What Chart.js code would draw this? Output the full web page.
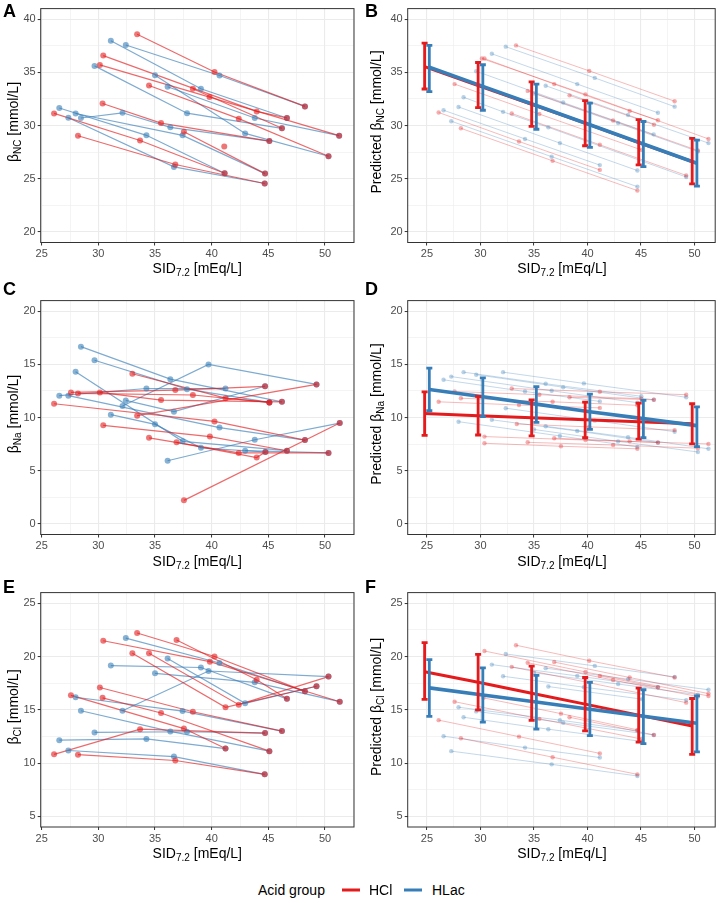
<!DOCTYPE html>
<html>
<head>
<meta charset="utf-8">
<script src="https://cdn.jsdelivr.net/npm/chart.js@4.4.1/dist/chart.umd.min.js"></script>
<style>
  body { margin: 0; background: #fff; font-family: "Liberation Sans", Arial, sans-serif; }
  #fig { position: relative; width: 725px; height: 903px; overflow: hidden; background: #fff; }
  canvas { position: absolute; }
  .lab { position: absolute; font-weight: bold; font-size: 18px; line-height: 18px; color: #000; }
  .xt, .yt { position: absolute; font-size: 14px; line-height: 16px; white-space: nowrap; color: #000; }
  .xt { transform: translate(-50%, -50%); }
  .yt { transform: translate(-50%, -50%) rotate(-90deg); }
  sub { font-size: 10px; vertical-align: -3px; line-height: 0; }
  .leg { position: absolute; font-size: 14px; line-height: 16px; transform: translateY(-50%); white-space: nowrap; }
  .key { position: absolute; width: 18px; height: 3px; transform: translateY(-50%); }
</style>
</head>
<body>
<div id="fig">
  <canvas id="cA" width="360" height="262" style="left:0;top:0"></canvas>
  <canvas id="cB" width="360" height="262" style="left:362px;top:0"></canvas>
  <canvas id="cC" width="360" height="262" style="left:0;top:292px"></canvas>
  <canvas id="cD" width="360" height="262" style="left:362px;top:292px"></canvas>
  <canvas id="cE" width="360" height="262" style="left:0;top:584px"></canvas>
  <canvas id="cF" width="360" height="262" style="left:362px;top:584px"></canvas>

  <div class="lab" style="left:3px;top:2px">A</div>
  <div class="lab" style="left:365px;top:2px">B</div>
  <div class="lab" style="left:3px;top:280px">C</div>
  <div class="lab" style="left:365px;top:280px">D</div>
  <div class="lab" style="left:3px;top:578px">E</div>
  <div class="lab" style="left:365px;top:578px">F</div>

  <div class="yt" style="left:12.5px;top:122px">β<sub>NC</sub> [mmol/L]</div>
  <div class="yt" style="left:375.5px;top:122px">Predicted β<sub>NC</sub> [mmol/L]</div>
  <div class="yt" style="left:12.5px;top:414px">β<sub>Na</sub> [mmol/L]</div>
  <div class="yt" style="left:375.5px;top:414px">Predicted β<sub>Na</sub> [mmol/L]</div>
  <div class="yt" style="left:12.5px;top:706.5px">β<sub>Cl</sub> [mmol/L]</div>
  <div class="yt" style="left:375.5px;top:706.5px">Predicted β<sub>Cl</sub> [mmol/L]</div>

  <div class="xt" style="left:197.3px;top:267.5px">SID<sub>7.2</sub> [mEq/L]</div>
  <div class="xt" style="left:561.9px;top:267.5px">SID<sub>7.2</sub> [mEq/L]</div>
  <div class="xt" style="left:197.3px;top:561px">SID<sub>7.2</sub> [mEq/L]</div>
  <div class="xt" style="left:561.9px;top:561px">SID<sub>7.2</sub> [mEq/L]</div>
  <div class="xt" style="left:197.3px;top:853px">SID<sub>7.2</sub> [mEq/L]</div>
  <div class="xt" style="left:561.9px;top:853px">SID<sub>7.2</sub> [mEq/L]</div>

  <div class="leg" style="left:258px;top:890px">Acid group</div>
  <div class="key" style="left:342px;top:890px;background:#E41A1C"></div>
  <div class="leg" style="left:369px;top:890px">HCl</div>
  <div class="key" style="left:404px;top:890px;background:#377EB8"></div>
  <div class="leg" style="left:432px;top:890px">HLac</div>
</div>

<script>
/* ===== Data: [SID, value] per animal ===== */
const sidTicks = [25, 30, 35, 40, 45, 50];
const sidGrid = [25, 27.5, 30, 32.5, 35, 37.5, 40, 42.5, 45, 47.5, 50, 52.5];
const ticksNC = [20, 22.5, 25, 27.5, 30, 32.5, 35, 37.5, 40];
const ticksNa = [0, 2.5, 5, 7.5, 10, 12.5, 15, 17.5, 20];
const ticksCl = [5, 7.5, 10, 12.5, 15, 17.5, 20, 22.5, 25];

// A: observed beta NC
const obsNcHCl = [
  [[33.42,38.58],[40.25,35.04],[48.23,31.80]],
  [[30.43,36.58],[43.97,31.33],[46.64,30.71]],
  [[30.13,35.70],[39.81,32.68],[51.25,29.05]],
  [[34.47,33.77],[42.39,30.65],[50.31,27.11]],
  [[30.37,32.07],[35.53,30.23],[45.09,28.54]],
  [[26.09,31.14],[33.68,28.59],[41.14,25.51]],
  [[28.20,29.04],[36.79,26.34],[44.68,24.55]],
  [[37.55,29.41],[44.71,25.48]],
  [[38.34,33.46],[46.20,29.74]],
  [[41.11,28.04]]
];
const obsNcHLac = [
  [[32.42,37.58],[40.69,34.71],[48.23,31.80]],
  [[31.10,37.97],[39.05,33.46],[46.64,30.71]],
  [[29.66,35.61],[37.82,31.16],[46.20,29.74]],
  [[36.11,33.65],[43.80,30.71],[51.25,29.05]],
  [[35.00,34.74],[42.95,29.26],[50.31,27.11]],
  [[28.46,30.71],[32.13,31.20],[36.35,29.83],[45.09,28.54]],
  [[27.99,31.13],[37.43,29.08],[44.71,25.48]],
  [[26.55,31.65],[34.24,29.08],[41.14,25.51]],
  [[27.35,30.74],[36.67,26.11],[44.68,24.55]]
];

// B: predicted beta NC
const predNcHCl = [
  [[33.32,37.54],[40.16,35.14],[48.14,32.29]],
  [[30.37,36.30],[36.89,33.90],[43.94,31.38],[46.58,30.50]],
  [[30.13,36.30],[39.81,32.93],[51.30,28.74]],
  [[34.41,33.26],[42.39,30.47],[50.31,27.65]],
  [[38.32,32.84],[46.21,30.08]],
  [[26.09,31.23],[33.60,28.50],[41.15,25.83]],
  [[28.17,29.74],[36.74,26.68],[44.66,23.88]],
  [[27.58,33.90],[35.50,31.08],[45.03,27.71]],
  [[32.92,31.14],[41.15,28.19],[49.22,25.31]]
];
const predNcHLac = [
  [[32.36,37.42],[40.68,34.48],[48.14,31.78]],
  [[31.06,36.75],[39.04,33.90],[46.58,31.20]],
  [[29.60,35.11],[37.73,32.17],[46.18,29.17]],
  [[36.09,33.75],[43.79,30.99],[51.30,28.35]],
  [[35.00,33.02],[42.86,30.23],[50.31,27.56]],
  [[28.42,32.66],[32.11,31.29],[36.34,29.83],[49.22,25.16]],
  [[27.95,31.75],[37.42,28.35],[44.66,25.77]],
  [[26.55,31.44],[34.16,28.74],[41.15,26.28]],
  [[27.27,30.41],[36.65,27.07],[44.66,24.25]]
];
const meanNcHCl = [35.54, 33.77, 32.00, 30.23, 28.40, 26.60];
const loNcHCl   = [33.44, 31.68, 29.92, 28.10, 26.31, 24.52];
const hiNcHCl   = [37.75, 35.93, 34.11, 32.35, 30.56, 28.80];
const meanNcHLac = [35.48, 33.68, 31.88, 30.08, 28.27, 26.46];
const loNcHLac   = [33.20, 31.44, 29.65, 27.95, 26.13, 24.31];
const hiNcHLac   = [37.54, 35.72, 33.90, 32.11, 30.38, 28.62];

// C: observed beta Na
const obsNaHCl = [
  [[26.09,11.30],[40.25,9.64],[48.23,7.88]],
  [[27.58,12.36],[36.79,12.58],[44.71,12.94]],
  [[28.20,12.27],[38.34,12.12],[45.09,11.42]],
  [[30.13,12.36],[35.53,11.64],[46.20,11.48]],
  [[33.00,14.12],[41.22,11.82],[45.09,11.42]],
  [[33.42,10.18],[49.25,13.12]],
  [[30.43,9.27],[39.84,8.21],[46.64,6.88]],
  [[34.47,8.09],[42.39,6.67],[50.31,6.67]],
  [[36.90,7.67],[43.97,6.24],[44.74,6.76]],
  [[37.55,2.21],[51.30,9.48]]
];
const obsNaHLac = [
  [[28.46,16.67],[36.35,13.61],[46.20,11.48]],
  [[29.66,15.39],[37.82,12.67],[45.09,11.42]],
  [[32.13,11.09],[39.72,15.00],[49.25,13.12]],
  [[27.99,14.30],[37.43,7.76],[46.64,6.88]],
  [[26.55,12.06],[34.24,12.73],[41.22,12.73]],
  [[27.35,12.06],[40.69,9.06],[48.23,7.88]],
  [[32.42,11.61],[36.67,10.55],[44.71,12.94]],
  [[31.10,10.27],[35.00,9.36],[39.05,7.15],[44.74,6.76]],
  [[36.11,5.94],[43.80,7.91],[51.30,9.48]],
  [[42.95,6.88],[50.31,6.67]]
];

// D: predicted beta Na
const predNaHCl = [
  [[32.92,12.73],[41.15,12.42],[49.22,12.15]],
  [[27.58,12.45],[35.50,12.15],[45.03,11.77]],
  [[38.32,11.91],[46.21,11.67]],
  [[28.17,11.82],[36.74,11.48],[44.66,11.15]],
  [[26.09,11.48],[33.60,11.18],[41.15,10.91]],
  [[33.39,9.39],[40.16,9.12],[48.14,8.82]],
  [[30.37,8.21],[39.81,7.88],[51.30,7.52]],
  [[36.89,8.06],[43.94,7.76],[46.58,7.65]],
  [[34.41,7.67],[42.39,7.42],[50.31,7.12]],
  [[30.37,7.58],[37.52,7.30],[44.66,7.06]]
];
const predNaHLac = [
  [[32.11,14.27],[39.66,13.21],[49.22,11.91]],
  [[28.42,14.27],[36.09,13.18],[45.03,12.00]],
  [[29.60,14.03],[37.73,12.85],[46.18,11.67]],
  [[27.27,13.85],[36.65,12.52],[44.66,11.40]],
  [[26.55,13.55],[34.16,12.45],[41.15,11.52]],
  [[32.36,10.88],[40.68,9.71],[48.14,8.67]],
  [[31.06,9.79],[39.04,8.73],[46.58,7.64]],
  [[36.09,9.18],[43.79,8.15],[51.30,7.06]],
  [[35.00,8.88],[42.86,7.76],[50.31,6.76]],
  [[27.95,9.61],[37.42,8.27],[44.66,7.24]]
];
const meanNaHCl = [10.39, 10.18, 9.97, 9.80, 9.60, 9.42];
const loNaHCl   = [8.33, 8.36, 8.27, 8.12, 7.97, 7.52];
const hiNaHCl   = [12.42, 12.00, 11.67, 11.45, 11.36, 11.30];
const meanNaHLac = [12.64, 11.95, 11.26, 10.55, 9.90, 9.24];
const loNaHLac   = [10.64, 10.09, 9.55, 8.88, 8.12, 7.27];
const hiNaHLac   = [14.64, 13.73, 12.91, 12.21, 11.61, 11.00];

// E: observed beta Cl
const obsClHCl = [
  [[33.42,22.21],[40.25,20.00],[48.23,16.73]],
  [[36.90,21.55],[43.97,17.82],[46.64,16.03]],
  [[30.43,21.48],[39.84,19.52],[51.30,15.76]],
  [[33.00,20.30],[41.22,15.24],[49.25,17.21]],
  [[34.47,20.30],[42.39,15.48],[50.31,18.12]],
  [[30.13,17.09],[38.34,14.82],[46.20,13.00]],
  [[30.37,16.12],[35.53,14.70],[45.09,11.12]],
  [[27.58,16.36],[37.55,13.24],[41.22,11.36]],
  [[26.09,10.82],[33.68,13.18],[44.71,12.82]],
  [[28.20,10.79],[36.79,10.24],[44.68,8.94]]
];
const obsClHLac = [
  [[32.42,21.73],[40.69,19.39],[48.23,16.73]],
  [[31.10,19.15],[39.05,18.97],[46.64,16.03]],
  [[32.13,14.91],[39.72,18.64],[50.31,18.12]],
  [[36.11,19.82],[42.95,15.61],[49.25,17.21]],
  [[35.00,18.42],[43.80,17.58],[51.30,15.76]],
  [[27.99,16.18],[37.43,14.88],[46.20,13.00]],
  [[28.46,14.91],[36.35,12.97],[45.09,11.12]],
  [[29.66,12.88],[37.82,12.94],[44.71,12.82]],
  [[26.55,12.15],[34.24,12.27],[41.22,11.36]],
  [[27.35,11.18],[36.67,10.61],[44.68,8.94]]
];

// F: predicted beta Cl
const predClHCl = [
  [[33.32,21.06],[40.16,19.61],[48.14,18.03]],
  [[36.89,19.48],[43.94,18.03],[51.30,16.52]],
  [[30.37,20.52],[39.81,18.55],[51.30,16.30]],
  [[34.41,19.42],[42.39,17.79],[50.31,16.24]],
  [[41.15,18.18],[46.58,17.12]],
  [[32.92,19.03],[49.22,15.67]],
  [[30.28,16.12],[37.52,14.64],[44.66,13.12]],
  [[38.32,14.30],[46.21,12.64]],
  [[27.58,15.76],[35.50,14.15],[45.03,12.26]],
  [[26.09,14.03],[33.60,12.48],[41.15,10.91]],
  [[28.17,12.33],[36.74,10.55],[44.66,8.94]]
];
const predClHLac = [
  [[32.36,20.24],[40.68,19.12],[48.14,18.09]],
  [[36.09,18.91],[43.79,17.88],[51.30,16.88]],
  [[31.06,19.24],[39.04,18.18],[46.58,17.12]],
  [[35.00,18.48],[42.86,17.42],[50.31,16.42]],
  [[32.11,18.15],[39.66,17.12],[49.22,15.91]],
  [[36.34,17.18],[45.09,16.00]],
  [[27.95,15.24],[37.42,14.03],[44.66,13.03]],
  [[29.60,14.85],[37.73,13.79],[46.18,12.64]],
  [[28.42,14.30],[36.34,13.18],[45.09,12.03]],
  [[26.55,12.52],[34.16,11.45],[41.15,10.52]],
  [[27.27,11.12],[36.65,9.88],[44.66,8.79]]
];
const meanClHCl = [18.58, 17.58, 16.55, 15.53, 14.50, 13.48];
const loClHCl   = [15.97, 15.00, 14.00, 13.03, 11.97, 10.82];
const hiClHCl   = [21.30, 20.21, 19.09, 18.03, 17.03, 16.06];
const meanClHLac = [17.06, 16.39, 15.73, 15.06, 14.39, 13.73];
const loClHLac   = [14.39, 13.85, 13.18, 12.58, 11.82, 11.06];
const hiClHLac   = [19.70, 18.94, 18.24, 17.58, 16.88, 16.30];

/* ===== Helpers ===== */
const RED = "228,26,28";
const BLUE = "55,126,184";
const FONT = "'Liberation Sans', Arial, sans-serif";
const isMajor = v => Math.abs(v / 5 - Math.round(v / 5)) < 1e-6;

const obsStyle  = { lineA: 0.65, lineW: 1.2, ptA: 0.6, r: 3 };
const predStyle = { lineA: 0.3, lineW: 1, ptA: 0.35, r: 2.2 };

function subjectSets(lines, rgb, st){
  const out = [];
  lines.forEach(pts => {
    const data = pts.map(p => ({ x: p[0], y: p[1] }));
    out.push({ data, showLine: true, borderColor: `rgba(${rgb},${st.lineA})`, borderWidth: st.lineW,
               pointRadius: 0, order: 20 });
    out.push({ data, showLine: false, pointBackgroundColor: `rgba(${rgb},${st.ptA})`,
               pointBorderWidth: 0, pointRadius: st.r, order: 10 });
  });
  return out;
}

function meanSets(mean, lo, hi, rgb, dx, w, order){
  const sets = [{
    data: sidTicks.map((s, i) => ({ x: s + dx, y: mean[i] })),
    showLine: true, borderColor: `rgb(${rgb})`, borderWidth: w, pointRadius: 0, order: order + 2
  }];
  sidTicks.forEach((s, i) => {
    sets.push({
      data: [{ x: s + dx, y: lo[i] }, { x: s + dx, y: hi[i] }],
      showLine: true, borderColor: `rgb(${rgb})`, borderWidth: 2.8,
      pointStyle: "line", pointRadius: 3, pointBorderWidth: 2.8, pointBorderColor: `rgb(${rgb})`,
      order
    });
  });
  return sets;
}

const frame = {
  id: "frame",
  afterDatasetsDraw(chart){
    const a = chart.chartArea, ctx = chart.ctx;
    ctx.save();
    ctx.strokeStyle = "#333333";
    ctx.lineWidth = 1;
    ctx.strokeRect(a.left, a.top, a.right - a.left, a.bottom - a.top);
    ctx.restore();
  }
};

function axis(min, max, values, fit){
  return {
    type: "linear", min, max,
    afterFit: fit,
    afterBuildTicks: ax => { ax.ticks = values.filter(v => v >= min && v <= max).map(v => ({ value: v })); },
    ticks: { callback: v => isMajor(v) ? String(v) : "", color: "#4d4d4d", font: { family: FONT, size: 11 },
             maxRotation: 0, autoSkip: false, padding: 2 },
    grid: { color: "#ebebeb", lineWidth: c => (c.tick && isMajor(c.tick.value)) ? 1.1 : 0.55,
            tickLength: 3, tickWidth: 1,
            tickColor: c => (c.tick && isMajor(c.tick.value)) ? "#333333" : "rgba(0,0,0,0)" },
    border: { display: false }
  };
}

function makePanel(id, datasets, col, yr, yTicks, padTop){
  const xr = col === 0 ? [24.91, 52.56] : [23.2, 51.93];
  const axisW = col === 0 ? 40.7 : 45.7;
  const xH = 262 - padTop - 241;
  new Chart(document.getElementById(id), {
    type: "scatter",
    data: { datasets },
    options: {
      responsive: false, animation: false, events: [],
      layout: { padding: { top: padTop, right: 6, bottom: 0, left: 0 } },
      plugins: { legend: { display: false }, tooltip: { enabled: false } },
      scales: {
        x: axis(xr[0], xr[1], sidGrid, ax => { ax.height = xH; }),
        y: axis(yr[0], yr[1], yTicks, ax => { ax.width = axisW; })
      }
    },
    plugins: [frame]
  });
}

/* ===== Build the six panels ===== */
makePanel("cA", [...subjectSets(obsNcHCl, RED, obsStyle), ...subjectSets(obsNcHLac, BLUE, obsStyle)],
          0, [19, 41], ticksNC, 1.5);
makePanel("cB", [...meanSets(meanNcHLac, loNcHLac, hiNcHLac, BLUE, 0.22, 3.6, 1),
                 ...meanSets(meanNcHCl, loNcHCl, hiNcHCl, RED, -0.22, 3, 2),
                 ...subjectSets(predNcHCl, RED, predStyle), ...subjectSets(predNcHLac, BLUE, predStyle)],
          1, [19, 41], ticksNC, 1.5);
makePanel("cC", [...subjectSets(obsNaHCl, RED, obsStyle), ...subjectSets(obsNaHLac, BLUE, obsStyle)],
          0, [-1, 21], ticksNa, 1.5);
makePanel("cD", [...meanSets(meanNaHLac, loNaHLac, hiNaHLac, BLUE, 0.22, 3.6, 1),
                 ...meanSets(meanNaHCl, loNaHCl, hiNaHCl, RED, -0.22, 3, 2),
                 ...subjectSets(predNaHCl, RED, predStyle), ...subjectSets(predNaHLac, BLUE, predStyle)],
          1, [-1, 21], ticksNa, 1.5);
makePanel("cE", [...subjectSets(obsClHCl, RED, obsStyle), ...subjectSets(obsClHLac, BLUE, obsStyle)],
          0, [4, 26], ticksCl, 2);
makePanel("cF", [...meanSets(meanClHLac, loClHLac, hiClHLac, BLUE, 0.22, 3.6, 1),
                 ...meanSets(meanClHCl, loClHCl, hiClHCl, RED, -0.22, 3, 2),
                 ...subjectSets(predClHCl, RED, predStyle), ...subjectSets(predClHLac, BLUE, predStyle)],
          1, [4, 26], ticksCl, 2);
</script>
</body>
</html>
